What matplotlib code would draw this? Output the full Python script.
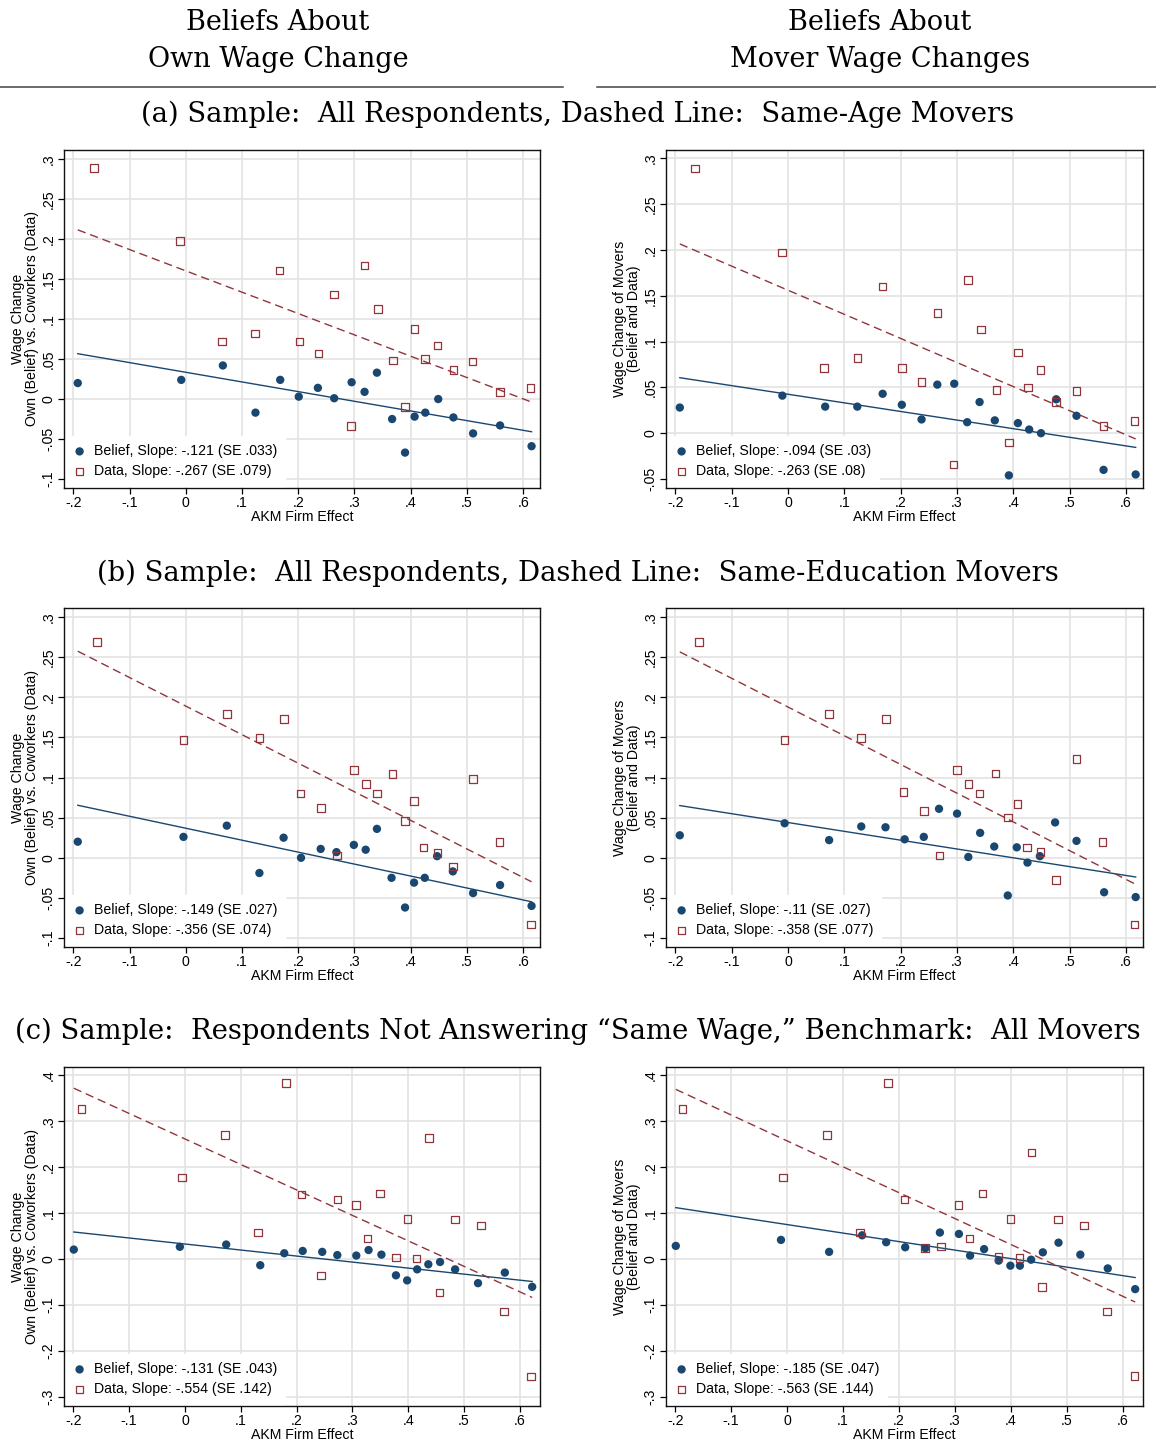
"""
Beliefs about wage changes vs AKM firm effect: six binned scatter panels
(own wage change vs mover wage changes) for three samples.
"""

import re
import numpy as np
import matplotlib
matplotlib.use('Agg')
import matplotlib.pyplot as plt
from matplotlib.lines import Line2D

plt.rcParams['font.family'] = ['Liberation Sans', 'DejaVu Sans']

NAVY = '#1a476f'
MAROON = '#90353b'
GRID = '#e3e3e3'

# ---- data -------------------------------------------------------------
# (a) all respondents, same-age movers -- own wage change
a_own_belief_x = [-0.192, -0.008, 0.066, 0.124, 0.168, 0.201, 0.235, 0.264, 0.295, 0.318,
                  0.340, 0.367, 0.390, 0.407, 0.426, 0.449, 0.476, 0.511, 0.559, 0.615]
a_own_belief_y = [0.020, 0.024, 0.042, -0.017, 0.024, 0.003, 0.014, 0.001, 0.021, 0.009,
                  0.033, -0.025, -0.067, -0.022, -0.017, 0.000, -0.023, -0.043, -0.033, -0.059]
a_own_data_x = [-0.163, -0.010, 0.064, 0.123, 0.167, 0.202, 0.236, 0.264, 0.294, 0.318,
                0.342, 0.369, 0.390, 0.407, 0.425, 0.448, 0.476, 0.510, 0.559, 0.613]
a_own_data_y = [0.289, 0.198, 0.072, 0.082, 0.161, 0.072, 0.057, 0.131, -0.034, 0.167,
                0.113, 0.048, -0.010, 0.088, 0.050, 0.067, 0.036, 0.047, 0.009, 0.014]

# (a) -- mover wage changes
a_mov_belief_x = [-0.192, -0.010, 0.066, 0.123, 0.168, 0.202, 0.237, 0.265, 0.295, 0.318,
                  0.340, 0.367, 0.392, 0.408, 0.428, 0.449, 0.476, 0.512, 0.560, 0.617]
a_mov_belief_y = [0.028, 0.041, 0.029, 0.029, 0.043, 0.031, 0.015, 0.053, 0.054, 0.012,
                  0.034, 0.014, -0.046, 0.011, 0.004, 0.000, 0.037, 0.019, -0.040, -0.045]
a_mov_data_x = [-0.165, -0.011, 0.064, 0.123, 0.168, 0.202, 0.237, 0.265, 0.294, 0.319,
                0.342, 0.370, 0.392, 0.408, 0.426, 0.448, 0.476, 0.512, 0.560, 0.615]
a_mov_data_y = [0.289, 0.197, 0.071, 0.082, 0.160, 0.071, 0.056, 0.131, -0.034, 0.167,
                0.113, 0.047, -0.010, 0.088, 0.050, 0.069, 0.034, 0.046, 0.008, 0.013]

# (b) all respondents, same-education movers -- own wage change
b_own_belief_x = [-0.192, -0.004, 0.073, 0.131, 0.174, 0.205, 0.240, 0.268, 0.299, 0.320,
                  0.340, 0.366, 0.390, 0.406, 0.425, 0.447, 0.475, 0.511, 0.559, 0.615]
b_own_belief_y = [0.020, 0.026, 0.040, -0.019, 0.025, 0.000, 0.011, 0.007, 0.016, 0.010,
                  0.036, -0.025, -0.062, -0.031, -0.025, 0.002, -0.017, -0.044, -0.034, -0.060]
b_own_data_x = [-0.158, -0.004, 0.073, 0.131, 0.175, 0.204, 0.240, 0.269, 0.299, 0.321,
                0.340, 0.368, 0.390, 0.406, 0.423, 0.448, 0.475, 0.511, 0.558, 0.614]
b_own_data_y = [0.269, 0.147, 0.179, 0.149, 0.173, 0.080, 0.062, 0.003, 0.109, 0.092,
                0.080, 0.104, 0.046, 0.071, 0.013, 0.006, -0.011, 0.098, 0.020, -0.083]

# (b) -- mover wage changes
b_mov_belief_x = [-0.192, -0.006, 0.073, 0.130, 0.173, 0.207, 0.241, 0.268, 0.300, 0.320,
                  0.341, 0.366, 0.390, 0.406, 0.425, 0.447, 0.474, 0.512, 0.561, 0.617]
b_mov_belief_y = [0.028, 0.043, 0.022, 0.039, 0.038, 0.023, 0.026, 0.061, 0.055, 0.001,
                  0.031, 0.014, -0.047, 0.013, -0.006, 0.002, 0.044, 0.021, -0.043, -0.049]
b_mov_data_x = [-0.158, -0.006, 0.073, 0.130, 0.174, 0.205, 0.241, 0.269, 0.300, 0.320,
                0.340, 0.368, 0.390, 0.407, 0.424, 0.448, 0.476, 0.512, 0.558, 0.615]
b_mov_data_y = [0.269, 0.147, 0.179, 0.149, 0.173, 0.082, 0.058, 0.003, 0.109, 0.092,
                0.080, 0.105, 0.050, 0.067, 0.013, 0.007, -0.028, 0.123, 0.020, -0.083]

# (c) respondents not answering "same wage" -- own wage change
c_own_belief_x = [-0.199, -0.009, 0.074, 0.135, 0.178, 0.211, 0.246, 0.273, 0.307, 0.329,
                  0.352, 0.378, 0.398, 0.416, 0.436, 0.457, 0.484, 0.525, 0.573, 0.622]
c_own_belief_y = [0.020, 0.026, 0.031, -0.014, 0.012, 0.017, 0.015, 0.008, 0.007, 0.019,
                  0.009, -0.036, -0.047, -0.023, -0.012, -0.007, -0.023, -0.053, -0.030, -0.061]
c_own_data_x = [-0.185, -0.005, 0.072, 0.131, 0.181, 0.209, 0.244, 0.273, 0.306, 0.327,
                0.349, 0.378, 0.399, 0.415, 0.437, 0.456, 0.484, 0.530, 0.572, 0.620]
c_own_data_y = [0.326, 0.177, 0.269, 0.057, 0.382, 0.140, -0.036, 0.129, 0.117, 0.044,
                0.142, 0.003, 0.086, 0.001, 0.263, -0.073, 0.085, 0.072, -0.115, -0.256]

# (c) -- mover wage changes
c_mov_belief_x = [-0.199, -0.011, 0.075, 0.134, 0.177, 0.211, 0.247, 0.273, 0.307, 0.327,
                  0.352, 0.378, 0.399, 0.416, 0.436, 0.457, 0.485, 0.524, 0.573, 0.622]
c_mov_belief_y = [0.028, 0.041, 0.015, 0.051, 0.036, 0.025, 0.023, 0.057, 0.054, 0.007,
                  0.021, -0.004, -0.015, -0.015, -0.002, 0.014, 0.035, 0.009, -0.021, -0.066]
c_mov_data_x = [-0.187, -0.007, 0.071, 0.130, 0.180, 0.210, 0.246, 0.275, 0.306, 0.326,
                0.349, 0.378, 0.399, 0.415, 0.437, 0.456, 0.484, 0.531, 0.572, 0.621]
c_mov_data_y = [0.326, 0.177, 0.269, 0.057, 0.382, 0.129, 0.023, 0.027, 0.117, 0.044,
                0.142, 0.004, 0.086, 0.002, 0.231, -0.062, 0.085, 0.072, -0.115, -0.255]

# linear fits: (intercept, slope, SE of slope)
a_own_belief_fit = (0.0335, -0.121, 0.033)
a_own_data_fit = (0.1604, -0.267, 0.079)
a_mov_belief_fit = (0.0425, -0.094, 0.03)
a_mov_data_fit = (0.156, -0.263, 0.08)
b_own_belief_fit = (0.0368, -0.149, 0.027)
b_own_data_fit = (0.189, -0.356, 0.074)
b_mov_belief_fit = (0.0439, -0.11, 0.027)
b_mov_data_fit = (0.1878, -0.358, 0.077)
c_own_belief_fit = (0.0321, -0.131, 0.043)
c_own_data_fit = (0.2605, -0.554, 0.142)
c_mov_belief_fit = (0.0743, -0.185, 0.047)
c_mov_data_fit = (0.2562, -0.563, 0.144)

x_ticks = [-0.2, -0.1, 0, 0.1, 0.2, 0.3, 0.4, 0.5, 0.6]
y_ticks_a_own = [-0.1, -0.05, 0, 0.05, 0.1, 0.15, 0.2, 0.25, 0.3]
y_ticks_a_mov = [-0.05, 0, 0.05, 0.1, 0.15, 0.2, 0.25, 0.3]
y_ticks_b = [-0.1, -0.05, 0, 0.05, 0.1, 0.15, 0.2, 0.25, 0.3]
y_ticks_c = [-0.3, -0.2, -0.1, 0, 0.1, 0.2, 0.3, 0.4]

col_headers = ['Beliefs About\nOwn Wage Change', 'Beliefs About\nMover Wage Changes']
row_titles = ['(a) Sample:  All Respondents, Dashed Line:  Same-Age Movers',
              '(b) Sample:  All Respondents, Dashed Line:  Same-Education Movers',
              '(c) Sample:  Respondents Not Answering \u201cSame Wage,\u201d Benchmark:  All Movers']
ylabel_own = 'Wage Change\nOwn (Belief) vs. Coworkers (Data)'
ylabel_mov = 'Wage Change of Movers\n(Belief and Data)'
xlabel = 'AKM Firm Effect'


def stata_fmt(v):
    # Stata-style number: drop the leading zero (.3, -.05)
    s = f"{v:g}"
    return re.sub(r'^(-?)0\.', r'\1.', s)


def draw_panel(ax, bx, by, dx, dy, bfit, dfit, yticks, ylim, xlim, ylabel):
    ax.set_xlim(*xlim)
    ax.set_ylim(*ylim)
    ax.set_xticks(x_ticks)
    ax.set_xticklabels([stata_fmt(v) for v in x_ticks])
    ax.set_yticks(yticks)
    ax.set_yticklabels([stata_fmt(v) for v in yticks], rotation=90, va='center')
    ax.grid(True, color=GRID, linewidth=1.2)
    ax.set_axisbelow(True)
    for sp in ax.spines.values():
        sp.set_linewidth(1.0)
        sp.set_color('#111111')
    ax.tick_params(direction='out', length=4.5, width=0.9, labelsize=10.2, pad=1.5)

    xs = np.array([min(bx + dx), max(bx + dx)])
    ax.plot(xs, bfit[0] + bfit[1] * xs, color=NAVY, linewidth=1.0, zorder=2)
    ax.plot(xs, dfit[0] + dfit[1] * xs, color=MAROON, linewidth=1.0,
            dashes=(6, 3.5), zorder=2)

    ax.scatter(bx, by, s=36, color=NAVY, edgecolors='none', zorder=3,
               label=f'Belief, Slope: {stata_fmt(bfit[1])} (SE {stata_fmt(bfit[2])})')
    ax.scatter(dx, dy, s=30, facecolors='none', edgecolors=MAROON, linewidths=0.9,
               marker='s', zorder=3,
               label=f'Data, Slope: {stata_fmt(dfit[1])} (SE {stata_fmt(dfit[2])})')

    leg = ax.legend(loc='lower left', bbox_to_anchor=(0, 0), borderaxespad=0.15,
                    frameon=True, fancybox=False, framealpha=1, facecolor='white',
                    edgecolor='white', fontsize=10.2, handlelength=0.8,
                    handletextpad=0.6, labelspacing=0.42, borderpad=0.55)
    leg.set_zorder(5)

    ax.set_xlabel(xlabel, fontsize=10.2)
    ax.xaxis.set_label_coords(0.5, -0.066)
    ax.set_ylabel(ylabel, fontsize=10.2, linespacing=0.95)
    ax.yaxis.set_label_coords(-0.053, 0.5)


fig = plt.figure(figsize=(11.56, 14.44), dpi=100)
W, H = 1156, 1444


def add_axes_px(x0, x1, top, bottom):
    return fig.add_axes([x0 / W, 1 - bottom / H, (x1 - x0) / W, (bottom - top) / H])


xlim_ab = (-0.2165, 0.630)
xlim_c = (-0.2165, 0.636)

rows = [
    (150, 488, [
        (a_own_belief_x, a_own_belief_y, a_own_data_x, a_own_data_y,
         a_own_belief_fit, a_own_data_fit, y_ticks_a_own, (-0.1113, 0.3116), xlim_ab, ylabel_own),
        (a_mov_belief_x, a_mov_belief_y, a_mov_data_x, a_mov_data_y,
         a_mov_belief_fit, a_mov_data_fit, y_ticks_a_mov, (-0.0598, 0.309), xlim_ab, ylabel_mov),
    ]),
    (608, 947, [
        (b_own_belief_x, b_own_belief_y, b_own_data_x, b_own_data_y,
         b_own_belief_fit, b_own_data_fit, y_ticks_b, (-0.1112, 0.3112), xlim_ab, ylabel_own),
        (b_mov_belief_x, b_mov_belief_y, b_mov_data_x, b_mov_data_y,
         b_mov_belief_fit, b_mov_data_fit, y_ticks_b, (-0.1112, 0.3112), xlim_ab, ylabel_mov),
    ]),
    (1067, 1406, [
        (c_own_belief_x, c_own_belief_y, c_own_data_x, c_own_data_y,
         c_own_belief_fit, c_own_data_fit, y_ticks_c, (-0.320, 0.4168), xlim_c, ylabel_own),
        (c_mov_belief_x, c_mov_belief_y, c_mov_data_x, c_mov_data_y,
         c_mov_belief_fit, c_mov_data_fit, y_ticks_c, (-0.320, 0.4168), xlim_c, ylabel_mov),
    ]),
]

col_x = [(64, 540), (666, 1143)]
for top, bottom, panels in rows:
    for (x0, x1), args in zip(col_x, panels):
        ax = add_axes_px(x0, x1, top, bottom)
        draw_panel(ax, *args)

# column headers and rules
serif = ['DejaVu Serif']
fig.text(278 / W, 1 - 41 / H, col_headers[0], ha='center', va='center',
         fontsize=19.5, family=serif, linespacing=1.45)
fig.text(880 / W, 1 - 41 / H, col_headers[1], ha='center', va='center',
         fontsize=19.5, family=serif, linespacing=1.45)
fig.add_artist(Line2D([0, 563 / W], [1 - 87 / H] * 2, color='#444444', linewidth=1.1))
fig.add_artist(Line2D([597 / W, 1], [1 - 87 / H] * 2, color='#444444', linewidth=1.1))

for y, title in zip([114, 573, 1031], row_titles):
    fig.text(0.5, 1 - y / H, title, ha='center', va='center', fontsize=19.8, family=serif)

fig.savefig('out.png', dpi=100)
